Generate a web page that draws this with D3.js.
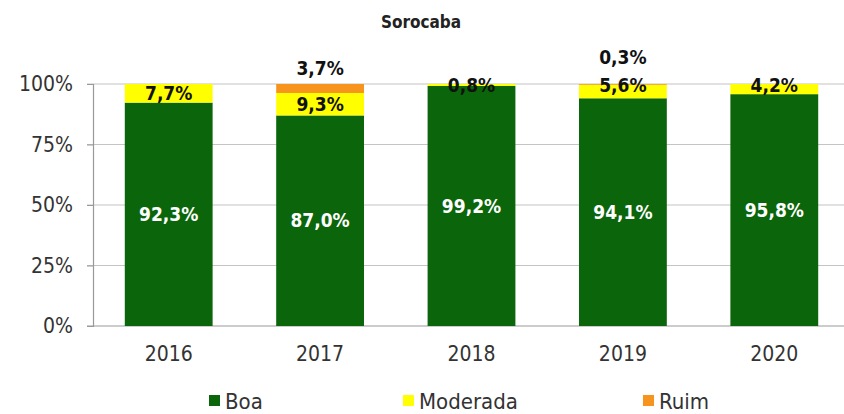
<!DOCTYPE html>
<html>
<head>
<meta charset="utf-8">
<script src="https://cdn.jsdelivr.net/npm/d3@7/dist/d3.min.js"></script>
<style>
  body { margin: 0; background: #fff; }
  svg text { font-family: "DejaVu Sans Condensed", "Liberation Sans Narrow", "Open Sans", sans-serif; }
</style>
</head>
<body>
<div id="chart"></div>
<script>
const years = ["2016", "2017", "2018", "2019", "2020"];
const boa = [92.3, 87.0, 99.2, 94.1, 95.8];
const moderada = [7.7, 9.3, 0.8, 5.6, 4.2];
const ruim = [0, 3.7, 0, 0.3, 0];
const yTicks = [0, 25, 50, 75, 100];
const seriesNames = ["Boa", "Moderada", "Ruim"];
const colors = ["#0b650b", "#ffff00", "#f7941d"];

const width = 844, height = 414;
const margin = { top: 84, right: 0, bottom: 88, left: 93 };

const svg = d3.select("#chart").append("svg")
    .attr("width", width)
    .attr("height", height);

const fmt = v => v.toFixed(1).replace(".", ",") + "%";

const x = d3.scaleBand()
    .domain(years)
    .range([margin.left, 850])
    .paddingInner(0.42)
    .paddingOuter(0.21);

const y = d3.scaleLinear()
    .domain([0, 100])
    .range([height - margin.bottom, margin.top]);

// title
svg.append("text")
    .attr("x", 421).attr("y", 28)
    .attr("text-anchor", "middle")
    .attr("font-size", 17).attr("font-weight", "bold")
    .attr("fill", "#222")
    .text("Sorocaba");

// gridlines
svg.append("g").selectAll("line")
    .data(yTicks).enter().append("line")
    .attr("x1", margin.left - 6).attr("x2", width)
    .attr("y1", d => y(d)).attr("y2", d => y(d))
    .attr("stroke", d => d === 0 ? "#999" : "#c4c4c4")
    .attr("stroke-width", 1.2);

// y axis
const yAxis = svg.append("g")
    .attr("transform", "translate(" + margin.left + ",0)")
    .call(d3.axisLeft(y).tickValues(yTicks).tickFormat(d => d + "%").tickSize(6).tickPadding(14));
yAxis.select(".domain").attr("stroke", "#999").attr("stroke-width", 1.2);
yAxis.selectAll(".tick line").attr("stroke", "#999");
yAxis.selectAll("text").attr("font-size", 21).attr("fill", "#333")
    .style("font-family", "'DejaVu Sans Condensed', 'Liberation Sans Narrow', sans-serif");

// stacked data
const rows = years.map((yr, i) => ({ year: yr, Boa: boa[i], Moderada: moderada[i], Ruim: ruim[i] }));
const stacked = d3.stack().keys(seriesNames)(rows);

svg.append("g").selectAll("g")
    .data(stacked).enter().append("g")
    .attr("fill", (d, i) => colors[i])
    .selectAll("rect")
    .data(d => d).enter().append("rect")
    .attr("x", d => x(d.data.year))
    .attr("width", x.bandwidth())
    .attr("y", d => y(d[1]))
    .attr("height", d => y(d[0]) - y(d[1]));

const labels = svg.append("g")
    .attr("font-size", 19).attr("font-weight", "bold")
    .attr("text-anchor", "middle");

// Boa labels (white, centred)
labels.selectAll(".boa")
    .data(rows).enter().append("text")
    .attr("class", "boa")
    .attr("x", d => x(d.year) + x.bandwidth() / 2)
    .attr("y", d => y(d.Boa / 2))
    .attr("dy", "0.35em")
    .attr("fill", "#fff")
    .text(d => fmt(d.Boa));

// Moderada labels (black)
const modY = d => {
    const top = y(d.Boa + d.Moderada), bot = y(d.Boa);
    return (bot - top) < 15 ? y(100) + 1 : (top + bot) / 2;
};
labels.selectAll(".mod")
    .data(rows).enter().append("text")
    .attr("class", "mod")
    .attr("x", d => x(d.year) + x.bandwidth() / 2)
    .attr("y", modY)
    .attr("dy", "0.35em")
    .attr("fill", "#111")
    .text(d => fmt(d.Moderada));

// Ruim labels above the bar
labels.selectAll(".ruim")
    .data(rows.filter(d => d.Ruim > 0)).enter().append("text")
    .attr("class", "ruim")
    .attr("x", d => x(d.year) + x.bandwidth() / 2)
    .attr("y", d => modY(d) < y(100) + 5 ? modY(d) - 28 : y(100) - 16)
    .attr("dy", "0.35em")
    .attr("fill", "#111")
    .text(d => fmt(d.Ruim));

// x axis labels
svg.append("g").selectAll("text")
    .data(years).enter().append("text")
    .attr("x", d => x(d) + x.bandwidth() / 2)
    .attr("y", 354)
    .attr("dy", "0.35em")
    .attr("text-anchor", "middle")
    .attr("font-size", 21).attr("fill", "#333")
    .text(d => d);

// legend
const legendX = [209, 403, 643];
const legend = svg.append("g").selectAll("g")
    .data(seriesNames).enter().append("g")
    .attr("transform", (d, i) => "translate(" + legendX[i] + ",395)");
legend.append("rect")
    .attr("width", 11).attr("height", 11)
    .attr("fill", (d, i) => colors[i]);
legend.append("text")
    .attr("x", 16).attr("y", 6).attr("dy", "0.35em")
    .attr("font-size", 22).attr("fill", "#333")
    .text(d => d);
</script>
</body>
</html>
